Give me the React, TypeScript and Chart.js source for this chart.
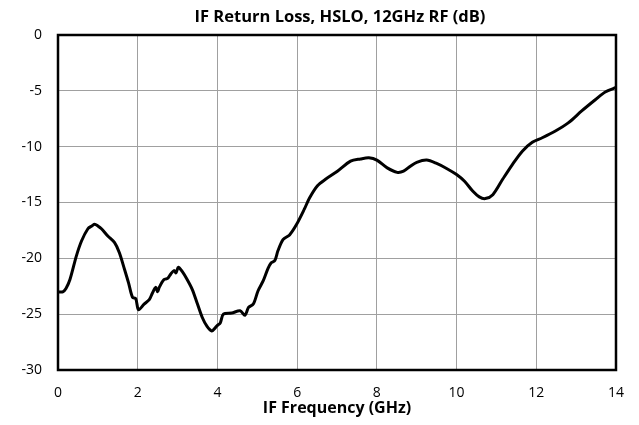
import React, { useEffect, useRef } from "react";
import { Chart, registerables } from "chart.js";

Chart.register(...registerables);

const freqGHz = [
  0, 0.12, 0.2, 0.3, 0.46, 0.59, 0.75, 0.85, 0.92, 1.0, 1.09, 1.25, 1.42, 1.54, 1.67, 1.77, 1.87, 1.95,
  2.02, 2.16, 2.29, 2.37, 2.45, 2.5, 2.54, 2.66, 2.75, 2.83, 2.91, 2.96, 3.02, 3.12, 3.24, 3.37, 3.49,
  3.62, 3.74, 3.86, 3.95, 4.0, 4.07, 4.15, 4.36, 4.57, 4.69, 4.78, 4.9, 5.02, 5.15, 5.27, 5.35, 5.44,
  5.52, 5.65, 5.81, 5.98, 6.18, 6.31, 6.51, 6.72, 7.01, 7.34, 7.59, 7.8, 8.0, 8.26, 8.51, 8.67, 8.84,
  9.0, 9.25, 9.5, 9.75, 10.0, 10.2, 10.41, 10.57, 10.72, 10.91, 11.16, 11.4, 11.65, 11.9, 12.15, 12.48,
  12.81, 13.14, 13.48, 13.73, 14.0,
];

const returnLossDb = [
  -23.0, -23.0, -22.7, -21.9, -19.8, -18.45, -17.35, -17.1, -16.95, -17.1, -17.35, -18.0, -18.6, -19.5,
  -21.0, -22.2, -23.5, -23.6, -24.6, -24.1, -23.7, -23.1, -22.6, -23.0, -22.6, -21.9, -21.8, -21.4,
  -21.1, -21.3, -20.8, -21.2, -21.9, -22.8, -24.0, -25.3, -26.1, -26.5, -26.2, -26.0, -25.8, -25.0,
  -24.9, -24.7, -25.1, -24.4, -24.1, -22.9, -22.0, -20.9, -20.4, -20.2, -19.3, -18.3, -17.9, -17.0,
  -15.6, -14.6, -13.5, -12.9, -12.2, -11.3, -11.1, -11.0, -11.2, -11.9, -12.3, -12.2, -11.75, -11.4,
  -11.2, -11.5, -11.95, -12.5, -13.1, -14.0, -14.5, -14.65, -14.3, -12.9, -11.6, -10.4, -9.6, -9.2,
  -8.6, -7.85, -6.8, -5.8, -5.1, -4.7,
];

const xTicks = [0, 2, 4, 6, 8, 10, 12, 14];
const yTicks = [0, -5, -10, -15, -20, -25, -30];

const titleText = "IF Return Loss, HSLO, 12GHz RF (dB)";
const xTitleText = "IF Frequency (GHz)";

const FONT = "'Open Sans', 'Liberation Sans', sans-serif";

const boxPlugin = {
  id: "plotBox",
  afterDatasetsDraw(chart: any) {
    const { ctx, chartArea } = chart;
    ctx.save();
    ctx.strokeStyle = "#000";
    ctx.lineWidth = 2.5;
    ctx.strokeRect(chartArea.left, chartArea.top, chartArea.right - chartArea.left, chartArea.bottom - chartArea.top);
    ctx.restore();
  },
};

const titlePlugin = {
  id: "plotTitle",
  afterDraw(chart: any) {
    const { ctx, chartArea } = chart;
    ctx.save();
    ctx.fillStyle = "#000";
    ctx.font = `bold 16.5px ${FONT}`;
    ctx.textAlign = "center";
    ctx.textBaseline = "middle";
    ctx.fillText(titleText, (chartArea.left + chartArea.right) / 2 + 3, 17);
    ctx.restore();
  },
};

export default function App() {
  const ref = useRef<HTMLCanvasElement | null>(null);

  useEffect(() => {
    document.body.style.margin = "0";
    const canvas = ref.current;
    if (!canvas) return;
    const points = freqGHz.map((f, i) => ({ x: f, y: returnLossDb[i] }));
    const chart = new Chart(canvas, {
      type: "line",
      data: {
        datasets: [
          {
            data: points,
            borderColor: "#000",
            borderWidth: 3,
            pointRadius: 0,
            tension: 0.3,
            fill: false,
          },
        ],
      },
      options: {
        animation: false,
        responsive: false,
        maintainAspectRatio: false,
        layout: { padding: { left: 0, right: 18, top: 35, bottom: 0 } },
        plugins: {
          legend: { display: false },
          tooltip: { enabled: false },
          title: { display: false },
        },
        scales: {
          x: {
            type: "linear",
            min: 0,
            max: 14,
            afterBuildTicks: (scale: any) => {
              scale.ticks = xTicks.map((v) => ({ value: v }));
            },
            afterFit: (scale: any) => {
              scale.height = 55;
            },
            ticks: {
              color: "#000",
              font: { family: FONT, size: 14 },
              padding: 15,
              maxRotation: 0,
            },
            grid: { color: "#a0a0a0", lineWidth: 1, drawTicks: false },
            border: { display: false },
            title: {
              display: true,
              text: xTitleText,
              color: "#000",
              font: { family: FONT, size: 16, weight: "bold", lineHeight: 1.2 },
              padding: { top: 0, bottom: 7 },
            },
          },
          y: {
            type: "linear",
            min: -30,
            max: 0,
            afterBuildTicks: (scale: any) => {
              scale.ticks = yTicks.map((v) => ({ value: v }));
            },
            afterFit: (scale: any) => {
              scale.width = 58;
            },
            ticks: {
              color: "#000",
              font: { family: FONT, size: 14 },
              padding: 16,
            },
            grid: { color: "#a0a0a0", lineWidth: 1, drawTicks: false },
            border: { display: false },
          },
        },
      },
      plugins: [boxPlugin, titlePlugin],
    });
    return () => chart.destroy();
  }, []);

  return (
    <div style={{ width: 639, height: 425 }}>
      <canvas ref={ref} width={639} height={425} style={{ display: "block", width: 639, height: 425 }} />
    </div>
  );
}
